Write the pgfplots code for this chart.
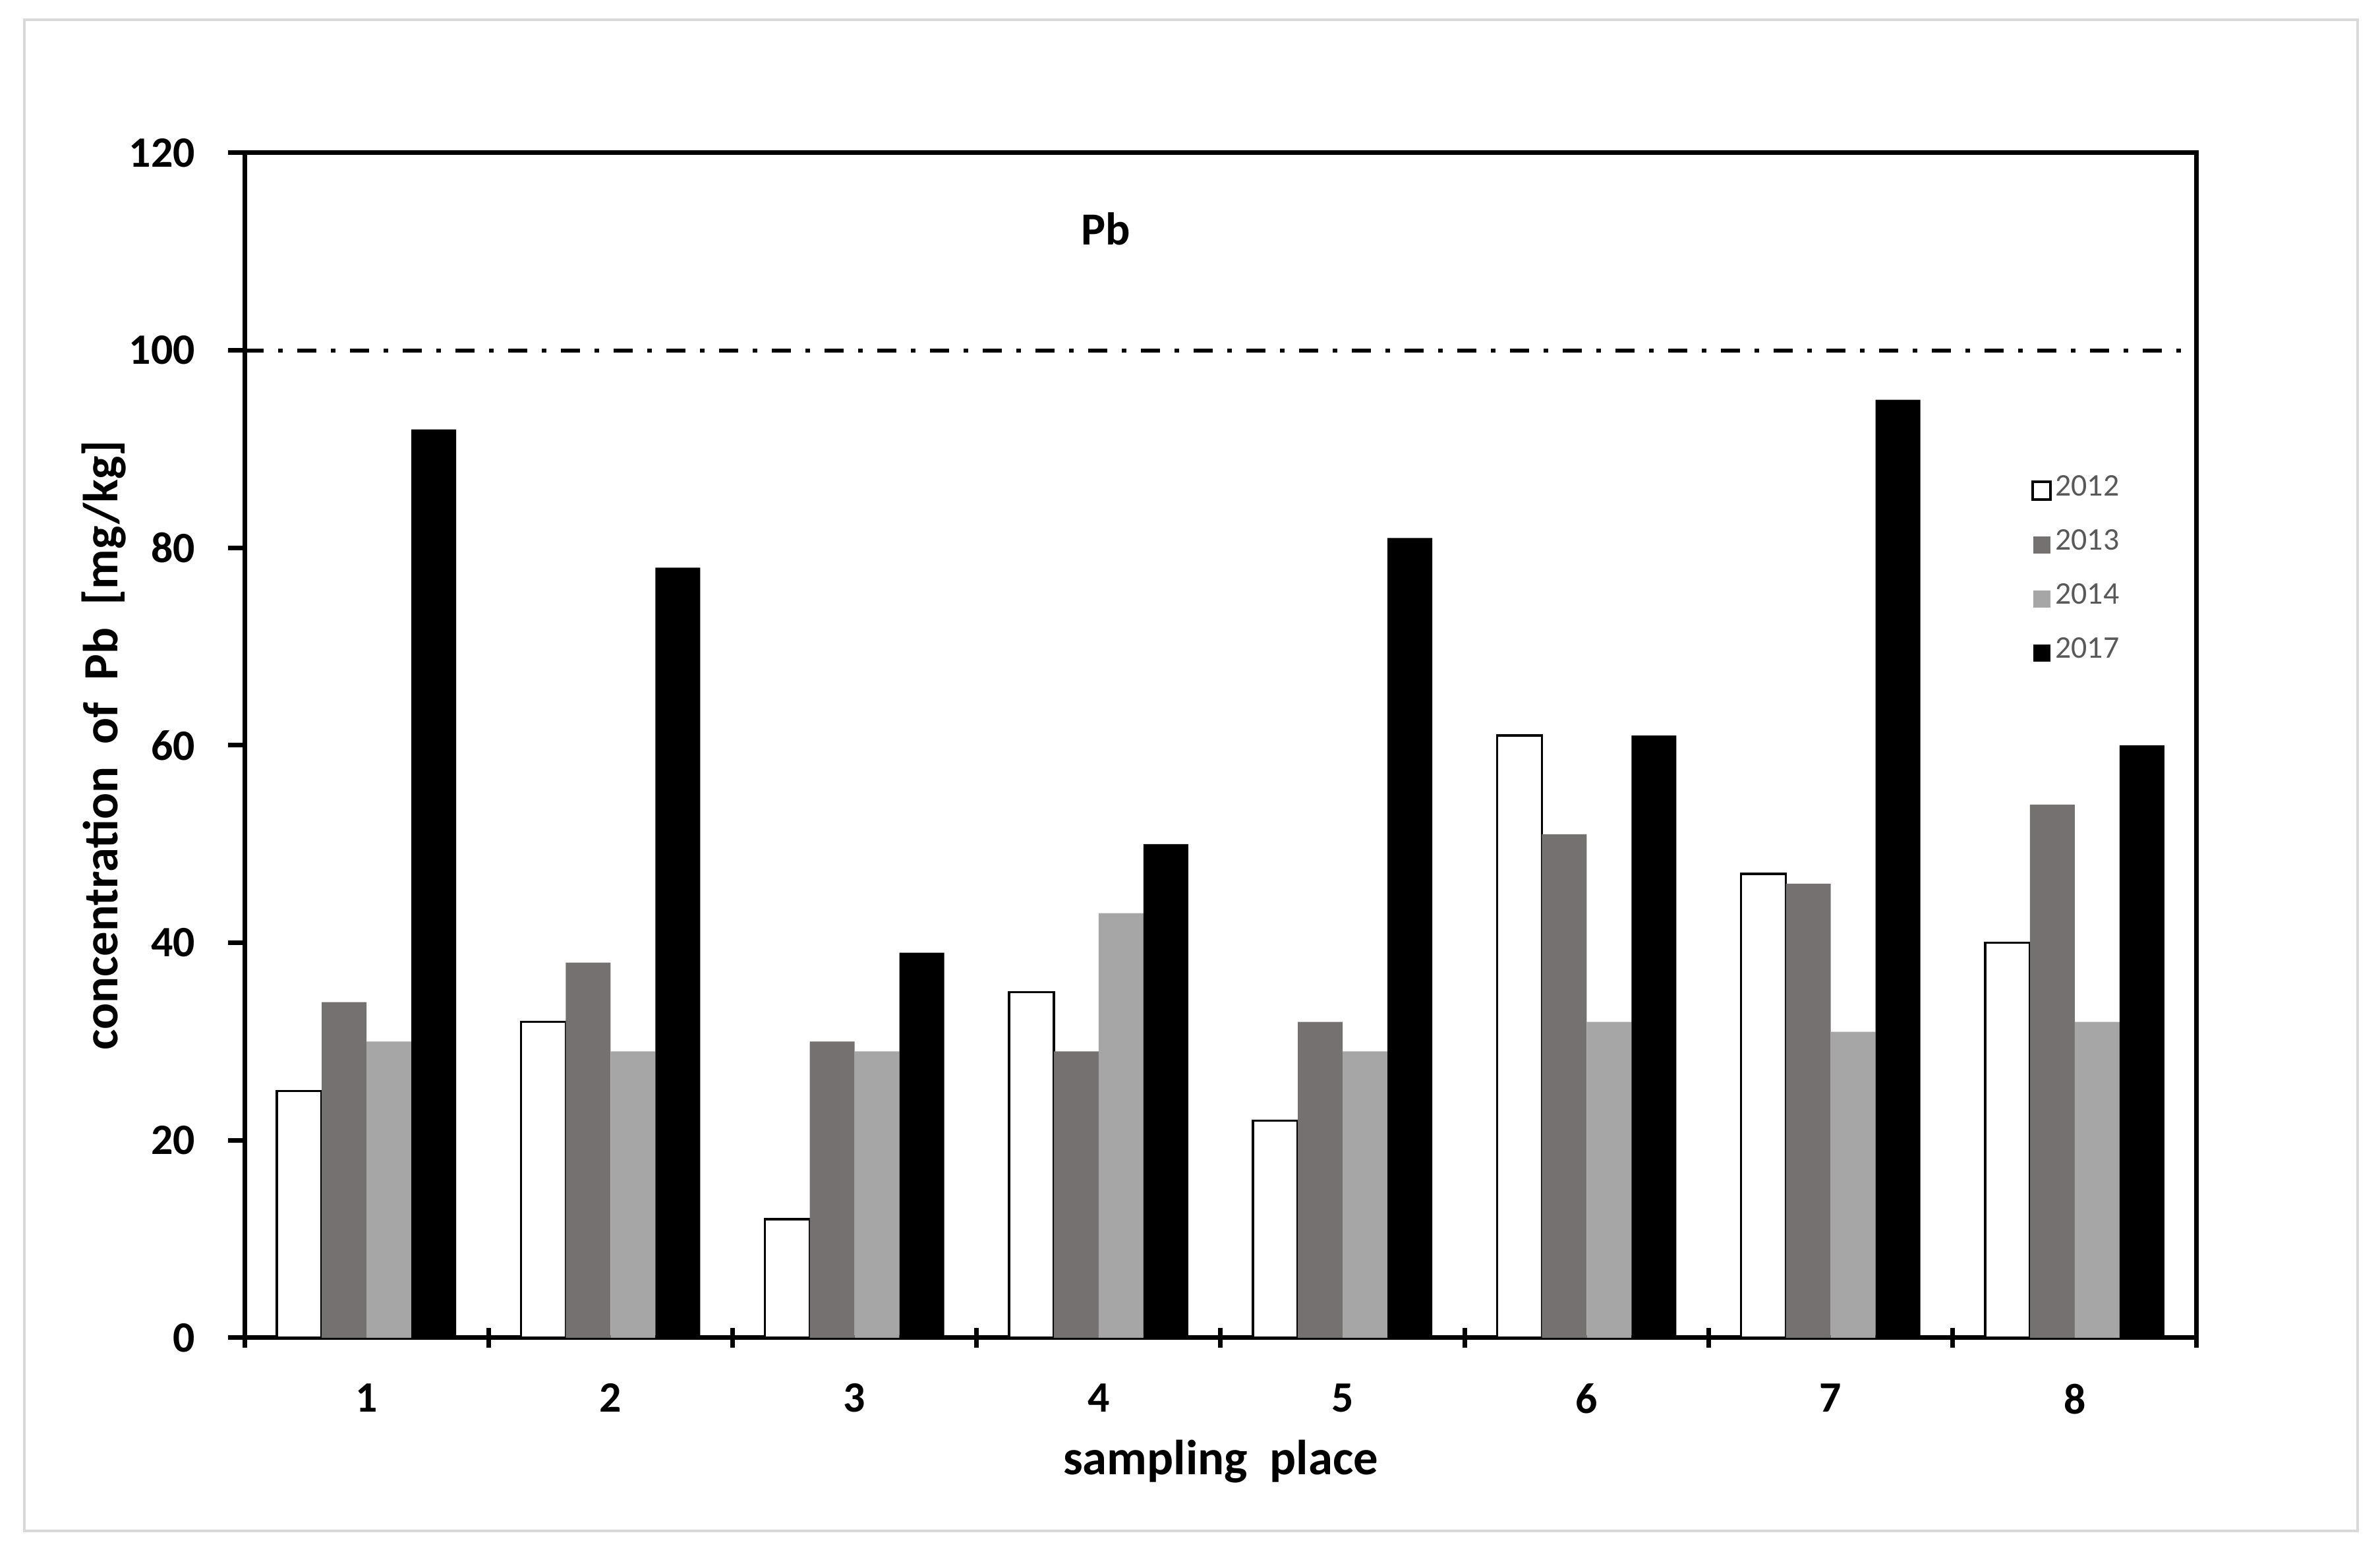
\documentclass[border=0pt]{standalone}
\usepackage{pgfplots}
\pgfplotsset{compat=1.18}
\usepackage{fontspec}
\setmainfont{Carlito}
\definecolor{cA}{RGB}{118,113,113}
\definecolor{cB}{RGB}{166,166,166}
\definecolor{frameg}{RGB}{217,217,217}
\definecolor{legtxt}{RGB}{89,89,89}
\begin{document}
\begin{tikzpicture}
\path (-37.1bp,-32.5bp) rectangle (324.0bp,203.0bp);
\draw[frameg, line width=0.45bp] (-33.4bp,-29.3bp) rectangle (320.6bp,200.0bp);
\begin{axis}[
  width=296.2bp, height=179.8bp, scale only axis,
  xmin=0.5, xmax=8.5, ymin=0, ymax=120,
  axis line style={line width=0.7bp},
  xtick={1,...,8},
  minor xtick={0.5,1.5,...,8.5},
  major x tick style={draw=none},
  minor x tick style={line width=0.7bp, black},
  minor tick length=3bp,
  xtick align=center,
  xtick pos=bottom,
  ytick={0,20,...,120},
  ytick align=outside,
  ytick pos=left,
  major tick length=2.5bp,
  y tick style={line width=0.7bp, black},
  /pgf/number format/assume math mode=true,
  ticklabel style={font=\bfseries\fontsize{6.6}{7.5}\selectfont},
  xticklabel style={yshift=-2.2bp},
  yticklabel style={xshift=-1.5bp},
  xlabel={sampling\ \ place},
  ylabel={concentration\ \ of\ \ Pb\ \ [mg/kg]},
  every axis x label/.style={at={(axis description cs:0.5,-0.1046)}, anchor=center, font=\bfseries\fontsize{7.5}{9}\selectfont},
  every axis y label/.style={at={(axis description cs:-0.0722,0.5)}, rotate=90, anchor=center, font=\bfseries\fontsize{7.5}{9}\selectfont},
  legend style={at={(rel axis cs:0.9146,0.7315)}, anchor=north west, draw=none, fill=none,
    inner sep=0pt, row sep=2.6bp,
    nodes={inner sep=0.5bp, font=\fontsize{4.8}{5.5}\selectfont, text=legtxt}},
  legend cell align=left,
  clip=false,
]
\addplot[ybar, bar width=6.8bp, bar shift=-10.2bp, fill=white, draw=black, line width=0.35bp,
  legend image code/.code={\draw[black, line width=0.45bp, fill=white] (0bp,-1.35bp) rectangle (2.7bp,1.35bp);}]
  coordinates {(1,25) (2,32) (3,12) (4,35) (5,22) (6,61) (7,47) (8,40)};
\addlegendentry{2012}
\addplot[ybar, bar width=6.8bp, bar shift=-3.4bp, fill=cA, draw=none,
  legend image code/.code={\fill[cA] (0.1bp,-1.3bp) rectangle (2.7bp,1.3bp);}]
  coordinates {(1,34) (2,38) (3,30) (4,29) (5,32) (6,51) (7,46) (8,54)};
\addlegendentry{2013}
\addplot[ybar, bar width=6.8bp, bar shift=3.4bp, fill=cB, draw=none,
  legend image code/.code={\fill[cB] (0.1bp,-1.3bp) rectangle (2.7bp,1.3bp);}]
  coordinates {(1,30) (2,29) (3,29) (4,43) (5,29) (6,32) (7,31) (8,32)};
\addlegendentry{2014}
\addplot[ybar, bar width=6.8bp, bar shift=10.2bp, fill=black, draw=none,
  legend image code/.code={\fill[black] (0.1bp,-1.3bp) rectangle (2.7bp,1.3bp);}]
  coordinates {(1,92) (2,78) (3,39) (4,50) (5,81) (6,61) (7,95) (8,60)};
\addlegendentry{2017}
\addplot[sharp plot, black, line width=0.6bp, dash pattern=on 2.9bp off 2.2bp on 0.7bp off 2.2bp, forget plot]
  coordinates {(0.5,100) (8.5,100)};
\node[font=\bfseries\fontsize{7}{8}\selectfont] at (axis cs:4.03,112.3) {Pb};
\end{axis}
\end{tikzpicture}
\end{document}
